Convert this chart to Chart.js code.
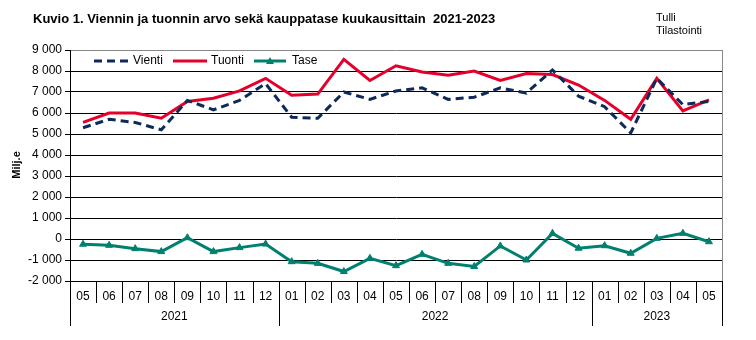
<!DOCTYPE html>
<html>
<head>
<meta charset="utf-8">
<script src="https://cdn.jsdelivr.net/npm/chart.js@4.4.1/dist/chart.umd.min.js"></script>
<style>
  html, body { margin: 0; padding: 0; background: #fff; }
  canvas { display: block; }
</style>
</head>
<body>
<canvas id="kuvio" width="756" height="340"></canvas>
<script>
// kuukaudet 2021/05 - 2023/05
const kuukaudet = ['05','06','07','08','09','10','11','12',
                   '01','02','03','04','05','06','07','08','09','10','11','12',
                   '01','02','03','04','05'];
const vuodet = [['2021', 0, 8], ['2022', 8, 20], ['2023', 20, 25]];

// milj. euroa
const vienti = [5300, 5700, 5550, 5200, 6600, 6150, 6600, 7400,
                5800, 5750, 7000, 6650, 7050, 7200, 6650, 6750, 7200, 6950, 8050, 6800,
                6300, 5050, 7650, 6400, 6550];
const tuonti = [5550, 6000, 6000, 5750, 6550, 6700, 7050, 7650,
                6850, 6900, 8550, 7550, 8250, 7950, 7800, 8000, 7550, 7880, 7830, 7330,
                6600, 5700, 7650, 6100, 6620];
const tase = [-250, -300, -460, -600, 60, -600, -410, -240,
              -1080, -1160, -1550, -920, -1270, -730, -1160, -1310, -330, -1000, 270, -440,
              -320, -680, 30, 270, -130];

const varit = { vienti: '#0d2a5a', tuonti: '#e4002b', tase: '#00806e' };

function muotoile(v) {
  let s = Math.abs(v).toString().replace(/\B(?=(\d{3})+(?!\d))/g, ' ');
  return (v < 0 ? '-' : '') + s;
}

const koristeet = {
  id: 'koristeet',
  afterDraw(chart) {
    const c = chart.ctx;
    const a = chart.chartArea;
    const x = chart.scales.x;
    c.save();

    // otsikko
    c.fillStyle = '#000';
    c.textBaseline = 'middle';
    c.textAlign = 'left';
    c.font = 'bold 13px "Liberation Sans", Arial, sans-serif';
    c.fillText('Kuvio 1. Viennin ja tuonnin arvo sekä kauppatase kuukausittain  2021-2023', 33, 19);
    c.font = '11px "Liberation Sans", Arial, sans-serif';
    c.fillText('Tulli', 656, 18);
    c.fillText('Tilastointi', 656, 31);

    // y-akselin nimi
    c.save();
    c.translate(17, 165);
    c.rotate(-Math.PI / 2);
    c.textAlign = 'center';
    c.font = 'bold 11px "Liberation Sans", Arial, sans-serif';
    c.fillText('Milj.e', 0, 0);
    c.restore();

    // selite
    const ly = 61;
    const selite = [
      ['Vienti', varit.vienti, [8, 5], 94, 128, 133],
      ['Tuonti', varit.tuonti, [], 173, 207, 211],
      ['Tase', varit.tase, [], 254, 286, 292]
    ];
    c.font = '12px "Liberation Sans", Arial, sans-serif';
    selite.forEach(s => {
      c.strokeStyle = s[1];
      c.lineWidth = 3;
      c.setLineDash(s[2]);
      c.beginPath();
      c.moveTo(s[3], ly);
      c.lineTo(s[4], ly);
      c.stroke();
      c.setLineDash([]);
      if (s[0] === 'Tase') {
        c.fillStyle = s[1];
        const mx = (s[3] + s[4]) / 2;
        c.beginPath();
        c.moveTo(mx, ly - 4);
        c.lineTo(mx + 4, ly + 3);
        c.lineTo(mx - 4, ly + 3);
        c.closePath();
        c.fill();
      }
      c.fillStyle = '#000';
      c.fillText(s[0], s[5], ly);
    });

    // oikea reuna
    c.strokeStyle = '#888';
    c.lineWidth = 1;
    c.beginPath();
    c.moveTo(Math.round(a.right) + 0.5, a.top);
    c.lineTo(Math.round(a.right) + 0.5, a.bottom);
    c.stroke();

    // kuukausi- ja vuosierottimet
    const leveys = x.getPixelForValue(1) - x.getPixelForValue(0);
    const vuosiRajat = vuodet.map(v => v[1]).concat([kuukaudet.length]);
    c.strokeStyle = '#000';
    for (let i = 0; i <= kuukaudet.length; i++) {
      const px = Math.round(x.getPixelForValue(i) - leveys / 2) + 0.5;
      const loppu = vuosiRajat.includes(i) ? 326 : 303;
      c.beginPath();
      c.moveTo(px, a.bottom);
      c.lineTo(px, loppu);
      c.stroke();
    }

    // vuodet
    c.textAlign = 'center';
    c.fillStyle = '#000';
    vuodet.forEach(v => {
      const keski = (x.getPixelForValue(v[1]) + x.getPixelForValue(v[2] - 1)) / 2;
      c.fillText(v[0], keski, 317);
    });

    c.restore();
  }
};

new Chart(document.getElementById('kuvio'), {
  type: 'line',
  data: {
    labels: kuukaudet,
    datasets: [
      {
        label: 'Vienti',
        data: vienti,
        borderColor: varit.vienti,
        borderWidth: 3,
        borderDash: [8, 5],
        pointRadius: 0,
        tension: 0
      },
      {
        label: 'Tuonti',
        data: tuonti,
        borderColor: varit.tuonti,
        borderWidth: 3,
        pointRadius: 0,
        tension: 0
      },
      {
        label: 'Tase',
        data: tase,
        borderColor: varit.tase,
        backgroundColor: varit.tase,
        borderWidth: 3,
        pointStyle: 'triangle',
        pointRadius: 4,
        pointBorderWidth: 1,
        tension: 0
      }
    ]
  },
  options: {
    responsive: false,
    animation: false,
    devicePixelRatio: 1,
    layout: { padding: { top: 50, right: 34, bottom: 0, left: 0 } },
    plugins: {
      legend: { display: false },
      title: { display: false },
      tooltip: { enabled: false }
    },
    scales: {
      x: {
        offset: true,
        grid: { display: false },
        border: { display: false },
        ticks: {
          color: '#000',
          padding: 0,
          maxRotation: 0,
          autoSkip: false,
          font: { family: '"Liberation Sans", Arial, sans-serif', size: 12 }
        },
        afterFit(scale) { scale.height = 59; }
      },
      y: {
        min: -2000,
        max: 9000,
        ticks: {
          stepSize: 1000,
          color: '#000',
          padding: 3,
          font: { family: '"Liberation Sans", Arial, sans-serif', size: 12 },
          callback: v => muotoile(v)
        },
        grid: {
          color: ctx => (ctx.tick && ctx.tick.value === 9000) ? '#888' : '#000',
          lineWidth: 1,
          tickLength: 5,
          tickColor: '#000'
        },
        border: { color: '#000', width: 1 },
        afterFit(scale) { scale.width = 70; }
      }
    }
  },
  plugins: [koristeet]
});
</script>
</body>
</html>
